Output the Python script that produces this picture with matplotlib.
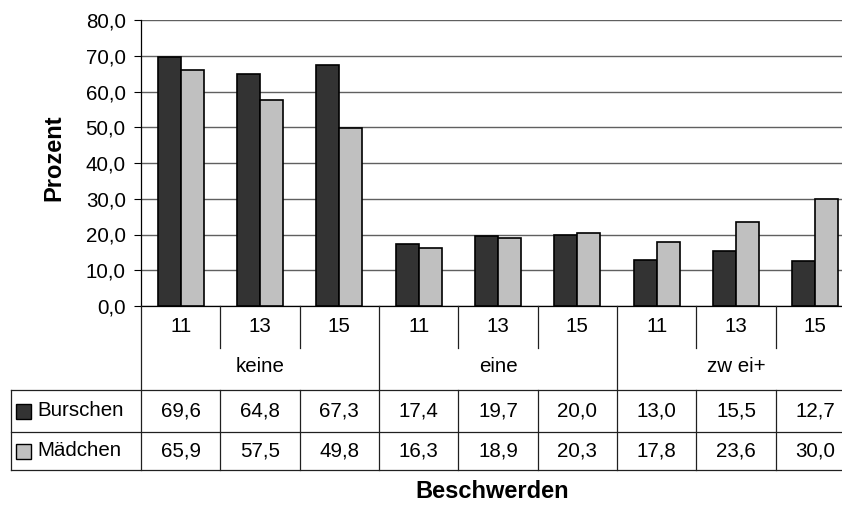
import matplotlib
matplotlib.use("Agg")
import matplotlib.pyplot as plt
from matplotlib.lines import Line2D
from matplotlib.patches import Rectangle
from matplotlib.ticker import FuncFormatter
from matplotlib.transforms import blended_transform_factory

# ---- data ----
ages = ["11", "13", "15"]
groups = ["keine", "eine", "zw ei+"]
series_names = ["Burschen", "Mädchen"]
burschen = [69.6, 64.8, 67.3, 17.4, 19.7, 20.0, 13.0, 15.5, 12.7]
maedchen = [65.9, 57.5, 49.8, 16.3, 18.9, 20.3, 17.8, 23.6, 30.0]
y_ticks = [0, 10, 20, 30, 40, 50, 60, 70, 80]
y_label = "Prozent"
x_label = "Beschwerden"

colors = ["#333333", "#c0c0c0"]

plt.rcParams["font.family"] = ["Liberation Sans", "DejaVu Sans"]

W, H = 842, 507
fig = plt.figure(figsize=(W / 100, H / 100), dpi=100)


def fy(py):
    return 1 - py / H


def fx(px):
    return px / W


ax_left, ax_right, ax_top, ax_bot = 141, 855, 20, 306
ax = fig.add_axes([fx(ax_left), fy(ax_bot), fx(ax_right - ax_left), (ax_bot - ax_top) / H])

n = len(burschen)
xs = [i + 0.5 for i in range(n)]
bw = 0.29
ax.bar([x - bw / 2 for x in xs], burschen, width=bw, color=colors[0],
       edgecolor="black", linewidth=1.2, zorder=3)
ax.bar([x + bw / 2 for x in xs], maedchen, width=bw, color=colors[1],
       edgecolor="black", linewidth=1.2, zorder=3)

fs = 14.8
ax.set_xlim(0, n)
ax.set_ylim(0, 80)
ax.set_yticks(y_ticks)
ax.yaxis.set_major_formatter(FuncFormatter(lambda v, p: f"{v:.1f}".replace(".", ",")))
ax.tick_params(axis="y", direction="out", length=5, width=0.8, labelsize=fs, pad=6)
ax.tick_params(axis="x", bottom=False, labelbottom=False)
ax.grid(axis="y", color="#606060", linewidth=1.0, zorder=0)
for s in ["top", "right"]:
    ax.spines[s].set_visible(False)
ax.spines["left"].set_color("black")
ax.spines["bottom"].set_color("black")
ax.spines["left"].set_linewidth(0.9)
ax.spines["bottom"].set_linewidth(0.9)

# ---- table below ----
tr = blended_transform_factory(ax.transData, fig.transFigure)
lc = "#202020"
lw = 0.9


def vline(x, y0, y1, trans=tr):
    fig.add_artist(Line2D([x, x], [fy(y0), fy(y1)], transform=trans, color=lc, linewidth=lw))


def hline(x0, x1, y):
    fig.add_artist(Line2D([fx(x0), fx(x1)], [fy(y), fy(y)], transform=fig.transFigure,
                          color=lc, linewidth=lw))


# column separators
for i in range(1, n):
    if i % 3 == 0:
        vline(i, ax_bot, 470)
    else:
        vline(i, ax_bot, 348)
        vline(i, 390, 470)
vline(0, ax_bot, 470)
# horizontal rows
hline(11, 860, 390)
hline(11, 860, 432)
hline(11, 860, 470)
fig.add_artist(Line2D([fx(11), fx(11)], [fy(390), fy(470)], transform=fig.transFigure,
                      color=lc, linewidth=lw))

for i, x in enumerate(xs):
    fig.text(x, fy(326), ages[i % 3], transform=tr, ha="center", va="center", fontsize=fs)
for g, name in enumerate(groups):
    fig.text(3 * g + 1.5, fy(367), name, transform=tr, ha="center", va="center", fontsize=fs)

row_y = [411, 451]
for r, (vals, name) in enumerate(zip([burschen, maedchen], series_names)):
    for x, v in zip(xs, vals):
        fig.text(x, fy(row_y[r]), f"{v:.1f}".replace(".", ","), transform=tr,
                 ha="center", va="center", fontsize=fs)
    fig.add_artist(Rectangle((fx(16), fy(row_y[r] + 7.5)), 15 / W, 15 / H,
                             transform=fig.transFigure, facecolor=colors[r],
                             edgecolor="black", linewidth=1.0))
    fig.text(fx(37), fy(row_y[r]), name, ha="left", va="center", fontsize=fs)

fig.text(fx(492), fy(491), x_label, ha="center", va="center", fontsize=17,
         fontweight="bold")
fig.text(fx(54), fy(158), y_label, ha="center", va="center", fontsize=17,
         fontweight="bold", rotation=90)

fig.savefig("out.png", dpi=100)
